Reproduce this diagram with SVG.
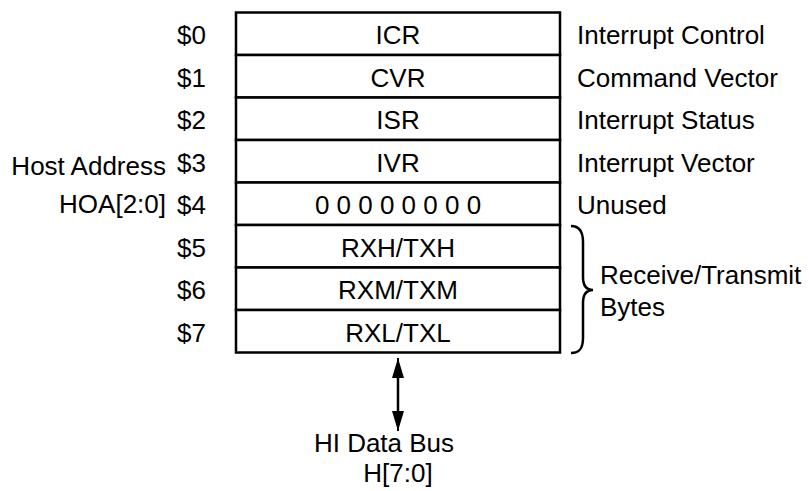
<svg xmlns="http://www.w3.org/2000/svg" width="809" height="491" viewBox="0 0 809 491">
<defs>
<style>
text{font-family:"Liberation Sans",Arial,sans-serif;font-size:26px;fill:#000}
.c{text-anchor:middle}
.e{text-anchor:end}
.reg{fill:#fff;stroke:#000;stroke-width:2.5}
.ln{fill:none;stroke:#000;stroke-width:2.5}
</style>
<marker id="ah" viewBox="0 0 20 12" refX="20" refY="6" markerWidth="20" markerHeight="12" markerUnits="userSpaceOnUse" orient="auto">
<path d="M0,0 L20,6 L0,12 Z" fill="#000"/>
</marker>
</defs>
<rect width="809" height="491" fill="#fff"/>
<g id="reg0"><rect class="reg" x="236" y="12.5" width="324" height="42.5"/><text class="c" x="398" y="44">ICR</text><text class="e" x="206" y="44">$0</text><text x="577" y="44">Interrupt Control</text></g>
<g id="reg1"><rect class="reg" x="236" y="55" width="324" height="42.5"/><text class="c" x="398" y="86.5">CVR</text><text class="e" x="206" y="86.5">$1</text><text x="577" y="86.5">Command Vector</text></g>
<g id="reg2"><rect class="reg" x="236" y="97.5" width="324" height="42.5"/><text class="c" x="398" y="129">ISR</text><text class="e" x="206" y="129">$2</text><text x="577" y="129">Interrupt Status</text></g>
<g id="reg3"><rect class="reg" x="236" y="140" width="324" height="42.5"/><text class="c" x="398" y="171.5">IVR</text><text class="e" x="206" y="171.5">$3</text><text x="577" y="171.5">Interrupt Vector</text></g>
<g id="reg4"><rect class="reg" x="236" y="182.5" width="324" height="42.5"/><text class="c" x="398" y="214">0 0 0 0 0 0 0 0</text><text class="e" x="206" y="214">$4</text><text x="577" y="214">Unused</text></g>
<g id="reg5"><rect class="reg" x="236" y="225" width="324" height="42.5"/><text class="c" x="398" y="256.5">RXH/TXH</text><text class="e" x="206" y="256.5">$5</text></g>
<g id="reg6"><rect class="reg" x="236" y="267.5" width="324" height="42.5"/><text class="c" x="398" y="299">RXM/TXM</text><text class="e" x="206" y="299">$6</text></g>
<g id="reg7"><rect class="reg" x="236" y="310" width="324" height="42.5"/><text class="c" x="398" y="341.5">RXL/TXL</text><text class="e" x="206" y="341.5">$7</text></g>
<g id="hostaddr"><text class="e" x="166" y="175">Host Address</text><text class="e" x="166" y="213">HOA[2:0]</text></g>
<g id="rxtx"><path class="ln" stroke-width="2" d="M571,226 C580,226 583,232 583,242 L583,277 C583,286 587,290 593,290 C587,290 583,294 583,303 L583,338 C583,348 580,353 571,353"/><text x="600" y="284">Receive/Transmit</text><text x="600" y="316">Bytes</text></g>
<g id="bus"><text class="c" x="384" y="452">HI Data Bus</text><text class="c" x="398" y="482">H[7:0]</text></g>
<g id="connectors"><line class="ln" x1="398" y1="370" x2="398" y2="418" stroke-width="2"/><line x1="398" y1="380" x2="398" y2="358" stroke="#000" stroke-width="2" marker-end="url(#ah)"/><line x1="398" y1="410" x2="398" y2="431" stroke="#000" stroke-width="2" marker-end="url(#ah)"/></g>
</svg>
